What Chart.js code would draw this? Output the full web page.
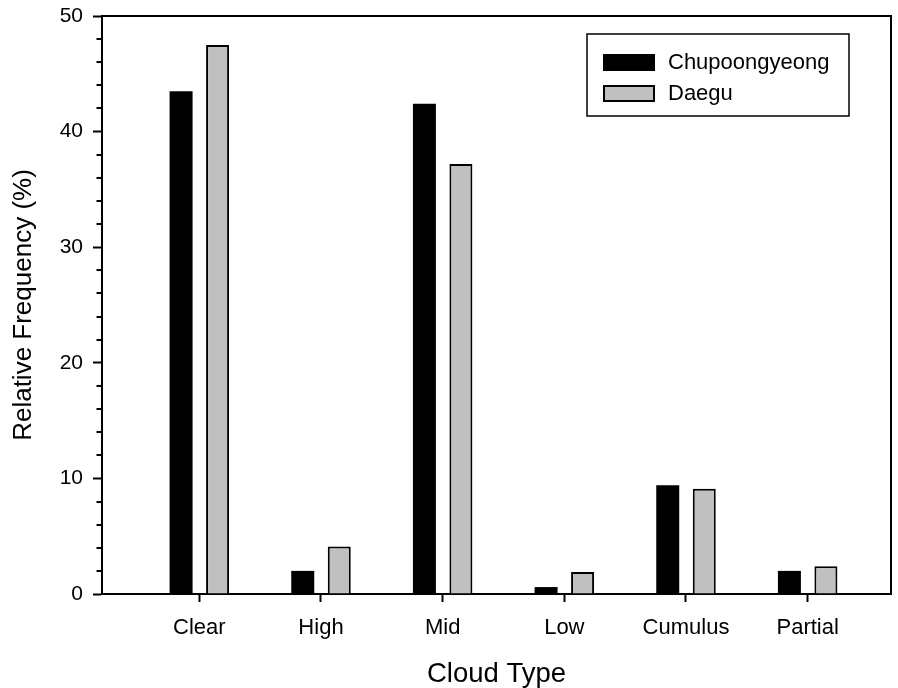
<!DOCTYPE html>
<html>
<head>
<meta charset="utf-8">
<title>Cloud Type Relative Frequency</title>
<script src="https://cdn.jsdelivr.net/npm/chart.js@4/dist/chart.umd.min.js"></script>
<style>
  html, body { margin: 0; padding: 0; background: #fff; }
  #wrap { width: 898px; height: 688px; }
</style>
</head>
<body>
<div id="wrap"><canvas id="c" width="898" height="688"></canvas></div>
<script>
// Cloud type categories and relative frequency (%) at each station
const categories = ['Clear', 'High', 'Mid', 'Low', 'Cumulus', 'Partial'];
const chupoongyeong = [43.5, 2.0, 42.4, 0.6, 9.4, 2.0];
const daegu = [47.5, 4.1, 37.2, 1.9, 9.1, 2.4];
const yTicks = [0, 10, 20, 30, 40, 50];

const FONT = '"Liberation Sans", Arial, sans-serif';

const toPoints = vals => vals.map((v, i) => ({ x: i + 1, y: v }));

// Frame, minor ticks and in-plot legend
const decorations = {
  id: 'decorations',
  afterDraw(chart) {
    const { ctx, chartArea: a, scales } = chart;
    ctx.save();
    ctx.strokeStyle = '#000';
    ctx.lineWidth = 2;
    // top and right frame lines
    ctx.beginPath();
    ctx.moveTo(a.left, a.top);
    ctx.lineTo(a.right, a.top);
    ctx.lineTo(a.right, a.bottom);
    ctx.stroke();

    // minor y ticks every 2 units
    const y = scales.y;
    for (let v = y.min; v <= y.max; v += 2) {
      if (v % 10 === 0) continue;
      const py = Math.round(y.getPixelForValue(v));
      ctx.beginPath();
      ctx.moveTo(a.left - 5.5, py);
      ctx.lineTo(a.left, py);
      ctx.stroke();
    }

    // legend box
    const bx = a.right - 304, by = a.top + 18, bw = 262, bh = 82;
    ctx.lineWidth = 1.5;
    ctx.strokeRect(bx, by, bw, bh);
    ctx.font = '22px ' + FONT;
    ctx.textBaseline = 'middle';
    ctx.textAlign = 'left';
    chart.data.datasets.forEach((ds, i) => {
      const sy = by + 20 + i * 31;
      ctx.fillStyle = ds.backgroundColor;
      ctx.fillRect(bx + 16, sy, 52, 17);
      ctx.lineWidth = 2;
      ctx.strokeStyle = '#000';
      ctx.strokeRect(bx + 17, sy + 1, 50, 15);
      ctx.fillStyle = '#000';
      ctx.fillText(ds.label, bx + 81, sy + 9);
    });
    ctx.restore();
  }
};

new Chart(document.getElementById('c'), {
  type: 'bar',
  data: {
    datasets: [
      {
        label: 'Chupoongyeong',
        data: toPoints(chupoongyeong),
        backgroundColor: '#000000',
        borderColor: '#000000',
        borderWidth: 0
      },
      {
        label: 'Daegu',
        data: toPoints(daegu),
        backgroundColor: '#c0c0c0',
        borderColor: '#000000',
        borderWidth: 2
      }
    ]
  },
  options: {
    responsive: false,
    animation: false,
    devicePixelRatio: 1,
    layout: { padding: { top: 16, right: 7, left: 0, bottom: 0 } },
    plugins: {
      legend: { display: false },
      tooltip: { enabled: false }
    },
    datasets: {
      bar: { categoryPercentage: 0.6, barPercentage: 0.63 }
    },
    scales: {
      x: {
        type: 'linear',
        offset: false,
        min: 0.2,
        max: 6.685,
        afterBuildTicks(scale) {
          scale.ticks = categories.map((c, i) => ({ value: i + 1 }));
        },
        afterFit(scale) {
          scale.height = 94;
          scale.paddingLeft = 0;
          scale.paddingRight = 0;
        },
        grid: { offset: false, drawOnChartArea: false, tickLength: 8, tickWidth: 2, tickColor: '#000' },
        border: { color: '#000', width: 2 },
        ticks: {
          color: '#000',
          font: { family: FONT, size: 22 },
          padding: 13,
          maxRotation: 0,
          autoSkip: false,
          callback: v => categories[Math.round(v) - 1] || ''
        },
        title: {
          display: true,
          text: 'Cloud Type',
          color: '#000',
          font: { family: FONT, size: 27.5, lineHeight: 1 },
          padding: { top: 0, bottom: 0 }
        }
      },
      y: {
        min: 0,
        max: 50,
        afterBuildTicks(scale) {
          scale.ticks = yTicks.map(v => ({ value: v }));
        },
        afterFit(scale) {
          scale.width = 102;
          scale.paddingTop = 0;
          scale.paddingBottom = 0;
        },
        grid: { drawOnChartArea: false, tickLength: 9, tickWidth: 2, tickColor: '#000' },
        border: { color: '#000', width: 2 },
        ticks: {
          color: '#000',
          font: { family: FONT, size: 21 },
          padding: 10
        },
        title: {
          display: true,
          text: 'Relative Frequency (%)',
          color: '#000',
          font: { family: FONT, size: 26 },
          padding: { top: 8, bottom: 0 }
        }
      }
    }
  },
  plugins: [decorations]
});
</script>
</body>
</html>
